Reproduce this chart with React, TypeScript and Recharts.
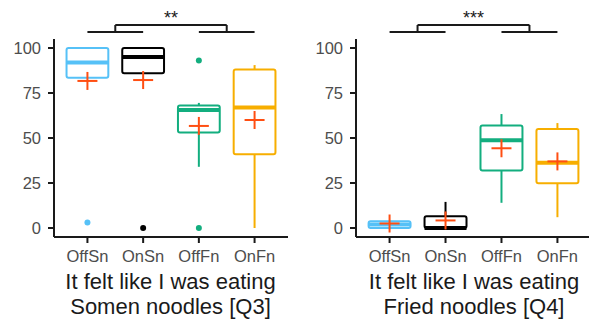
import React from "react";
import { ComposedChart, XAxis, YAxis, Scatter, ReferenceArea, ReferenceLine } from "recharts";

const groups = ["OffSn", "OnSn", "OffFn", "OnFn"];
const colors = ["#56C1F7", "#000000", "#13AE7F", "#F7AE00"];
const meanColor = "#FF4E12";
const yTicks = [0, 25, 50, 75, 100];

// Q3 - somen noodles
const q3Lo = [83.5, 86, 34, 0];
const q3Q1 = [83.5, 86, 53, 41];
const q3Med = [92, 95, 65.5, 67];
const q3Q3 = [100, 100, 68, 88];
const q3Hi = [100, 100, 69.5, 90.5];
const q3Mean = [81.7, 82.2, 56.7, 60];
const q3Out = [[3], [0], [93, 0], []];

// Q4 - fried noodles
const q4Lo = [0, 0, 14, 6];
const q4Q1 = [0, 0, 32, 24.8];
const q4Med = [2, 0, 48.7, 36.3];
const q4Q3 = [3.8, 6.5, 57, 55];
const q4Hi = [3.8, 14.5, 63.3, 58.3];
const q4Mean = [2.5, 4.2, 44.3, 37];
const q4Out: number[][] = [[], [], [], []];

const font = "'Liberation Sans', Arial, sans-serif";
const ink = "#1a1a1a";
const half = 0.375;

type Stats = { lo: number[]; q1: number[]; med: number[]; q3: number[]; hi: number[]; mean: number[]; out: number[][] };

const Cross = (p: any) => (
  <g stroke={meanColor} strokeWidth={2}>
    <line x1={p.cx - 10} y1={p.cy} x2={p.cx + 10} y2={p.cy} />
    <line x1={p.cx} y1={p.cy - 9} x2={p.cx} y2={p.cy + 9} />
  </g>
);

function Panel({ s, stars, width, right }: { s: Stats; stars: string; width: number; right: number }) {
  const means = s.mean.map((m, i) => ({ x: i + 1, y: m }));
  const outs = s.out.flatMap((arr, i) => arr.map((v) => ({ x: i + 1, y: v, c: colors[i] })));
  const ax = { axisLine: { stroke: ink, strokeWidth: 2 }, tickLine: { stroke: ink, strokeWidth: 2 }, tickSize: 6, tickMargin: 7 };
  const tick = { fill: "#4D4D4D", fontSize: 16.5, fontFamily: font };
  const br = { stroke: ink, strokeWidth: 2, ifOverflow: "visible" as const };
  return (
    <ComposedChart width={width} height={320} margin={{ top: 39, right, bottom: 53, left: 0 }}>
      <XAxis type="number" dataKey="x" domain={[0.4, 4.6]} ticks={[1, 2, 3, 4]} tickFormatter={(v: number) => groups[v - 1]} height={30} tick={tick} {...ax} />
      <YAxis type="number" dataKey="y" domain={[-5, 105]} ticks={yTicks} width={54} tick={tick} {...ax} />
      {groups.map((g, i) => (
        <ReferenceLine key={g + "w1"} segment={[{ x: i + 1, y: s.q3[i] }, { x: i + 1, y: s.hi[i] }]} stroke={colors[i]} strokeWidth={2} />
      ))}
      {groups.map((g, i) => (
        <ReferenceLine key={g + "w2"} segment={[{ x: i + 1, y: s.lo[i] }, { x: i + 1, y: s.q1[i] }]} stroke={colors[i]} strokeWidth={2} />
      ))}
      {groups.map((g, i) => (
        <ReferenceArea key={g + "b"} x1={i + 1 - half} x2={i + 1 + half} y1={s.q1[i]} y2={s.q3[i]} fill="none" stroke={colors[i]} strokeWidth={2} fillOpacity={0} strokeOpacity={1} radius={2} />
      ))}
      {groups.map((g, i) => (
        <ReferenceLine key={g + "m"} segment={[{ x: i + 1 - half, y: s.med[i] }, { x: i + 1 + half, y: s.med[i] }]} stroke={colors[i]} strokeWidth={4} />
      ))}
      <ReferenceLine segment={[{ x: 1, y: 108.9 }, { x: 2, y: 108.9 }]} {...br} />
      <ReferenceLine segment={[{ x: 3, y: 108.9 }, { x: 4, y: 108.9 }]} {...br} />
      <ReferenceLine segment={[{ x: 1.5, y: 108.9 }, { x: 1.5, y: 112.8 }]} {...br} />
      <ReferenceLine segment={[{ x: 3.5, y: 108.9 }, { x: 3.5, y: 112.8 }]} {...br} />
      <ReferenceLine
        segment={[{ x: 1.5, y: 112.8 }, { x: 3.5, y: 112.8 }]}
        {...br}
        label={{ value: stars, position: "top", offset: 1, fill: ink, fontSize: 18, fontFamily: font }}
      />
      <Scatter data={outs} isAnimationActive={false} shape={(p: any) => <circle cx={p.cx} cy={p.cy} r={3} fill={p.payload.c} />} />
      <Scatter data={means} isAnimationActive={false} shape={Cross} />
    </ComposedChart>
  );
}

const titleStyle: React.CSSProperties = {
  position: "absolute",
  top: 269,
  width: 260,
  textAlign: "center",
  fontFamily: font,
  fontSize: 22,
  lineHeight: "25px",
  color: ink,
};

export default function App() {
  const q3: Stats = { lo: q3Lo, q1: q3Q1, med: q3Med, q3: q3Q3, hi: q3Hi, mean: q3Mean, out: q3Out };
  const q4: Stats = { lo: q4Lo, q1: q4Q1, med: q4Med, q3: q4Q3, hi: q4Hi, mean: q4Mean, out: q4Out };
  return (
    <div style={{ position: "absolute", left: 0, top: 0, width: 589, height: 320, overflow: "hidden", background: "#fff" }}>
      <div style={{ position: "absolute", left: 0, top: 0 }}>
        <Panel s={q3} stars="**" width={295} right={7} />
      </div>
      <div style={{ position: "absolute", left: 302, top: 0 }}>
        <Panel s={q4} stars="***" width={291} right={2} />
      </div>
      <div style={{ ...titleStyle, left: 170.5 - 130 }}>
        It felt like I was eating
        <br />
        Somen noodles [Q3]
      </div>
      <div style={{ ...titleStyle, left: 474 - 130 }}>
        It felt like I was eating
        <br />
        Fried noodles [Q4]
      </div>
    </div>
  );
}
